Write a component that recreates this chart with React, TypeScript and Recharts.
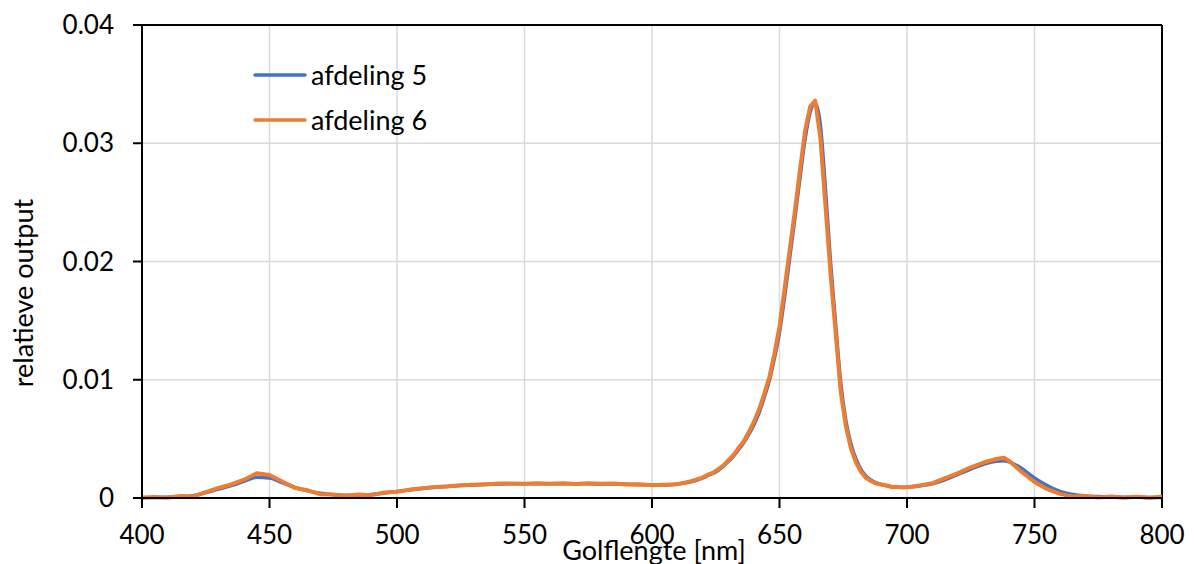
import React from 'react';
import { LineChart, Line, XAxis, YAxis, CartesianGrid, Legend, ReferenceLine } from 'recharts';

const FONT = 'Lato, "Open Sans", sans-serif';

// Golflengte in nm
const wavelengths = [
  400, 405, 410, 415, 420, 425, 430, 435, 440, 445, 450, 455, 460, 465, 470, 475, 480, 485, 490, 495,
  500, 505, 510, 515, 520, 525, 530, 535, 540, 545, 550, 555, 560, 565, 570, 575, 580, 585, 590, 595,
  600, 605, 610, 615, 620,
  622, 624, 626, 628, 630, 632, 634, 636, 638, 640, 642, 644, 646, 648, 650, 652, 654, 656, 658, 660,
  662, 664, 666, 668, 670, 672, 674, 676, 678, 680, 682, 684, 686, 688, 690, 692, 694, 696, 698, 700,
  705, 710, 715, 720, 725, 730, 735, 738, 740, 745, 750, 755, 760, 765, 770, 775, 780, 785, 790, 795, 800,
];

const afdeling5 = [
  0.00005, 0.00005, 0.00007, 0.0001, 0.0002, 0.00045, 0.00075, 0.00105, 0.0014, 0.00175, 0.0017, 0.0013,
  0.0009, 0.0006, 0.0004, 0.00028, 0.00023, 0.00024, 0.0003, 0.00042, 0.00055, 0.00068, 0.0008, 0.0009,
  0.00098, 0.00105, 0.0011, 0.00115, 0.00118, 0.0012, 0.0012, 0.00121, 0.00121, 0.00121, 0.0012, 0.0012,
  0.00119, 0.00118, 0.00116, 0.00113, 0.0011, 0.0011, 0.00118, 0.00135, 0.0017,
  0.0019, 0.0021, 0.00235, 0.0027, 0.0031, 0.00355, 0.0041, 0.0047, 0.0054, 0.0062, 0.0072, 0.0085,
  0.0099, 0.0118, 0.014, 0.017, 0.0203, 0.0236, 0.027, 0.0303, 0.0326, 0.0334, 0.0316, 0.0262, 0.02,
  0.0148, 0.0098, 0.0066, 0.0046, 0.0033, 0.0024, 0.00185, 0.0015, 0.00128, 0.00113, 0.00103, 0.00096,
  0.00092, 0.0009, 0.00092,
  0.00102, 0.0012, 0.00155, 0.002, 0.00245, 0.00285, 0.0031, 0.00315, 0.00305, 0.0025, 0.0017, 0.00105,
  0.00055, 0.0003, 0.00018, 0.00012, 0.00009, 0.00007, 0.00006, 0.00005, 0.00005,
];

const afdeling6 = [
  0.00002, 0.00009, 0.00003, 0.00016, 0.00012, 0.0005, 0.00085, 0.00115, 0.00155, 0.0021, 0.00195, 0.0014,
  0.00085, 0.00065, 0.00032, 0.0003, 0.0002, 0.00029, 0.00024, 0.00046, 0.00053, 0.00071, 0.00082, 0.00094,
  0.00099, 0.00108, 0.00112, 0.00116, 0.00122, 0.00123, 0.0012, 0.00125, 0.0012, 0.00125, 0.00118, 0.00124,
  0.0012, 0.00123, 0.00115, 0.00117, 0.00108, 0.00113, 0.00117, 0.0014, 0.00175,
  0.00198, 0.00215, 0.00245, 0.00275, 0.0032, 0.00365, 0.00425, 0.0048, 0.0056, 0.00645, 0.0075, 0.0088,
  0.0102, 0.0122, 0.0145, 0.0177, 0.021, 0.0242, 0.0277, 0.031, 0.0331, 0.0336, 0.0305, 0.0248, 0.019,
  0.014, 0.009, 0.0061, 0.0042, 0.003, 0.0022, 0.00168, 0.00142, 0.00122, 0.00115, 0.00106, 0.00093,
  0.00096, 0.00088, 0.00091,
  0.00106, 0.00126, 0.00168, 0.0021, 0.0026, 0.003, 0.0033, 0.0034, 0.00315, 0.0022, 0.00135, 0.00075,
  0.00035, 0.00012, 0.00016, 0.00004, 0.00013, 0.00003, 0.00011, 0.00003, 0.0001,
];

const xTicks = [400, 450, 500, 550, 600, 650, 700, 750, 800];
const yTicks = [0, 0.01, 0.02, 0.03, 0.04];

const data = wavelengths.map((wl, i) => ({
  wl,
  a5: afdeling5[i],
  a6: afdeling6[i],
}));

const LegendContent = ({ payload }: any) => (
  <div>
    {(payload || []).map((p: any) => (
      <div key={p.value} style={{ display: 'flex', alignItems: 'center', height: 45 }}>
        <svg width={54} height={8}>
          <line x1={2} y1={4} x2={52} y2={4} stroke={p.color} strokeWidth={3.5} strokeLinecap="round" />
        </svg>
        <span style={{ marginLeft: 4, fontSize: 27, fontFamily: FONT, color: '#000' }}>{p.value}</span>
      </div>
    ))}
  </div>
);

export default function App() {
  const tickStyle = { fill: '#000', fontSize: 26, fontFamily: FONT };

  return (
    <div style={{ position: 'absolute', left: 0, top: 0, width: 1194, height: 564, background: '#fff' }}>
      <LineChart width={1194} height={564} data={data} margin={{ top: 25, right: 32, left: 0, bottom: 0 }}>
        <CartesianGrid stroke="#d9d9d9" strokeWidth={1.5} />
        <XAxis
          dataKey="wl"
          type="number"
          domain={[400, 800]}
          ticks={xTicks}
          height={66}
          tickSize={10}
          tickMargin={18}
          stroke="#000"
          axisLine={{ stroke: '#000', strokeWidth: 2 }}
          tickLine={{ stroke: '#000', strokeWidth: 2 }}
          tick={tickStyle}
          label={{
            value: 'Golflengte [nm]',
            position: 'insideBottom',
            offset: 4,
            dx: 2,
            fill: '#000',
            fontSize: 27,
            fontFamily: FONT,
          }}
        />
        <YAxis
          type="number"
          domain={[0, 0.04]}
          ticks={yTicks}
          width={142}
          tickSize={9}
          tickMargin={19}
          axisLine={{ stroke: '#000', strokeWidth: 2 }}
          tickLine={{ stroke: '#000', strokeWidth: 2 }}
          tick={tickStyle}
          tickFormatter={(v: number) => (v === 0 ? '0' : v.toFixed(2))}
        />
        <ReferenceLine y={0.04} stroke="#000" strokeWidth={2} />
        <ReferenceLine x={800} stroke="#000" strokeWidth={2} />
        <Legend
          layout="vertical"
          align="center"
          verticalAlign="middle"
          content={<LegendContent />}
          wrapperStyle={{ left: 253, top: 52, width: 'auto', height: 'auto' }}
        />
        <Line
          name="afdeling 5"
          dataKey="a5"
          type="monotone"
          stroke="#4472C4"
          strokeWidth={3.5}
          dot={false}
          isAnimationActive={false}
        />
        <Line
          name="afdeling 6"
          dataKey="a6"
          type="linear"
          stroke="#ED7D31"
          strokeWidth={4}
          strokeLinejoin="round"
          dot={false}
          isAnimationActive={false}
        />
      </LineChart>
      <div
        style={{
          position: 'absolute',
          left: 22,
          top: 293,
          transform: 'translate(-50%, -50%) rotate(-90deg)',
          whiteSpace: 'nowrap',
          fontSize: 27,
          lineHeight: 1,
          fontFamily: FONT,
          color: '#000',
        }}
      >
        relatieve output
      </div>
    </div>
  );
}
